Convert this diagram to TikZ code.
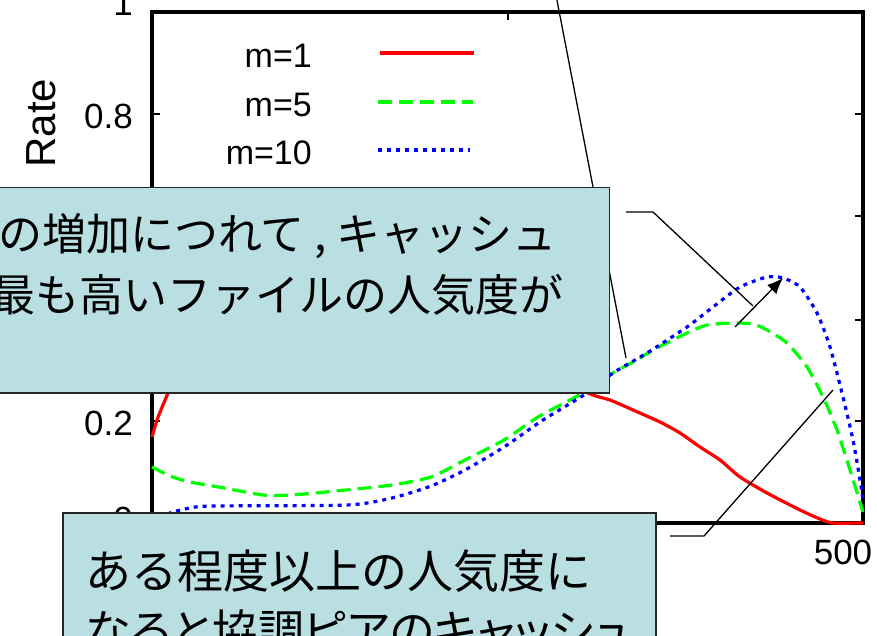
\documentclass[tikz,border=0pt]{standalone}
\usepackage{fontspec}
\setmainfont{Liberation Sans}
\newfontfamily\jpfont{Noto Sans CJK JP}
\newfontfamily\jppfont[RawFeature=+palt]{Noto Sans CJK JP}
\usetikzlibrary{arrows.meta}
\definecolor{notefill}{RGB}{185,223,227}

\begin{document}
\begin{tikzpicture}[x=1pt,y=-1pt,
    ticklabel/.style={font=\fontsize{35}{40}\selectfont,anchor=base east,inner sep=0pt},
    legendlabel/.style={font=\fontsize{34}{38}\selectfont,anchor=base east,inner sep=0pt},
    notebox/.style={draw=black!85,line width=1.5pt,fill=notefill},
    uppertext/.style={font=\jpfont\fontsize{44}{50}\selectfont,anchor=base west,inner sep=0pt},
    lowertext/.style={font=\jpfont\fontsize{46}{52}\selectfont,anchor=base west,inner sep=0pt},
    leader/.style={line width=1.3pt},
    curve/.style={line width=3.2pt,line join=round}]
        \useasboundingbox (0,0) rectangle (877,636);
        \draw[line width=3.5pt] (152,12) rectangle (863,523);
        \foreach \y in {114,216,320,421} {
            \draw[line width=1.5pt] (152,\y) -- +(8,0);
            \draw[line width=1.5pt] (863,\y) -- +(-8,0);
        }
        \draw[line width=1.5pt] (508,12) -- +(0,8);
        \draw[line width=1.5pt] (508,523) -- +(0,-8);
        \node[ticklabel] (yone) at (133,16) {1};
        \node[ticklabel] (yeight) at (133,129) {0.8};
        \node[ticklabel] (ytwo) at (133,435) {0.2};
        \node[ticklabel] (yzero) at (133,531) {0};
        \node[ticklabel,anchor=base] (xfive) at (843,564) {500};
        \node[rotate=90,inner sep=0pt,font=\fontsize{42}{48}\selectfont] (ylabel) at (41,123) {Rate};
        \node[legendlabel] (mone) at (312,68) {m=1};
        \node[legendlabel] (mfive) at (312,117) {m=5};
        \node[legendlabel] (mten) at (312,165) {m=10};
        \draw[curve,red] (380,53) -- (474,53);
        \draw[curve,green,dash pattern=on 14pt off 7pt] (378,102) -- (473,102);
        \draw[curve,blue,dash pattern=on 4pt off 5pt] (378,150) -- (470,150);
        \draw[curve,red] plot[smooth,tension=0.4] coordinates {(152,437) (157,420) (163,405) (168,393)
            (190,340) (260,280) (400,290) (520,360) (588,393) (610,400) (633,410) (660,422) (680,433)
            (700,447) (720,460) (740,477) (767,493) (800,510) (820,519) (833,523) (863,523)};
        \draw[curve,green,dash pattern=on 14pt off 7pt] plot[smooth,tension=0.4] coordinates {(152,467)
            (170,476) (190,482) (224,488) (263,495) (291,495) (336,491) (392,485) (431,477) (465,460)
            (504,440) (538,417) (583,393) (613,373) (633,362) (657,348) (687,333) (707,325) (733,323)
            (753,324) (767,330) (787,343) (807,367) (823,397) (837,430) (850,470) (863,512)};
        \draw[curve,blue,dash pattern=on 4pt off 5pt] plot[smooth,tension=0.4] coordinates {(152,523)
            (170,513) (190,508) (213,506) (347,505) (392,498) (431,486) (465,470) (504,447) (543,420)
            (587,393) (613,373) (647,353) (687,327) (713,307) (740,287) (767,277) (783,278) (800,287)
            (817,313) (830,347) (843,397) (853,440) (860,480) (863,500)};
        \coordinate (ltop) at (555,-10);
        \coordinate (ltip) at (626,358);
        \draw[leader] (ltop) -- (ltip);
        \node[notebox,anchor=north east,minimum width=700pt,minimum height=205pt] (upper) at (610,187) {};
        \node[uppertext] (upperA) at (-2,251) {の増加につれて , キャッシュ};
        \node[uppertext] (upperB) at (-9,311) {最も高いファイルの人気度が};
        \node[notebox,anchor=north west,minimum width=593pt,minimum height=180pt] (lower) at (62,512) {};
        \node[lowertext] (lowerA) at (85,588) {ある程度以上の人気度に};
        \node[lowertext,font=\jppfont\fontsize{46}{52}\selectfont] (lowerB) at (85,648) {なると協調ピアのキャッシュ};
        \coordinate (ma) at (626,212);
        \coordinate (mb) at (653,212);
        \coordinate (mc) at (753,306);
        \draw[leader] (ma) -- (mb) -- (mc);
        \coordinate (aa) at (735,327);
        \coordinate (ab) at (783,278);
        \draw[leader,-{Latex[length=16pt,width=13pt]}] (aa) -- (ab);
        \coordinate (na) at (670,536);
        \coordinate (nb) at (704,536);
        \coordinate (nc) at (833,390);
        \draw[leader] (na) -- (nb) -- (nc);
    \end{tikzpicture}
\end{document}
